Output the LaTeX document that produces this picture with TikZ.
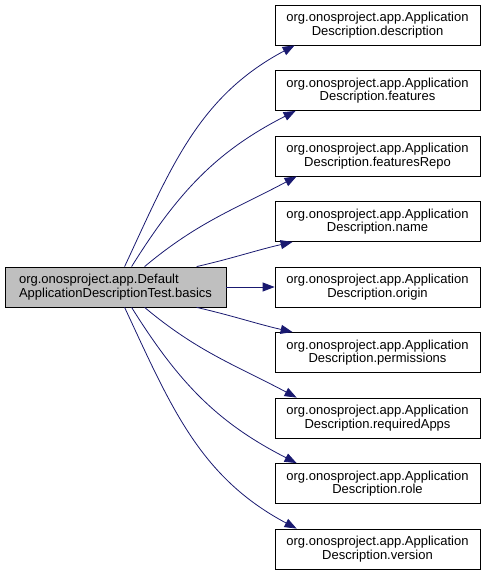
\documentclass[tikz,border=0pt]{standalone}
\usepackage{fontspec}
\setmainfont{Liberation Sans}
\usetikzlibrary{arrows.meta}

\definecolor{edgeblue}{HTML}{191970}
\definecolor{nodegray}{HTML}{BFBFBF}

\begin{document}
\begin{tikzpicture}[x=1pt, y=1pt]
  \tikzset{
    fn/.style={draw=black, line width=0.8pt, minimum width=205pt, minimum height=40pt,
      inner sep=0pt, align=center, font=\fontsize{13}{13.5}\selectfont},
    caller/.style={fn, fill=nodegray, minimum width=221pt, align=left},
    edge/.style={draw=edgeblue, line width=0.8pt, -{Triangle[length=12pt, width=9pt]}},
  }

  \useasboundingbox (0,0) rectangle (485,573);

  \node[caller] (basics) at (115.5,286) {org.onosproject.app.Default\\ApplicationDescriptionTest.basics};

  \foreach \n [count=\i] in {description,features,featuresRepo,name,origin,permissions,requiredApps,role,version}
    \node[fn] (\n) at (377.5, {548-65.5*(\i-1)}) {org.onosproject.app.Application\\Description.\n};

  % calls above the caller
  \foreach \n/\sx/\ex/\o/\a in {
    description/120/20/65/208,
    features/127/21/58/207,
    featuresRepo/140/22/40/208,
    name/192/18/13/193
  }{
    \draw[edge] ([xshift=\sx pt]basics.north west) to[out=\o, in=\a] ([xshift=\ex pt]\n.south west);
  }

  \draw[edge] (basics) -- (origin);

  % calls below the caller
  \foreach \n/\sx/\ex/\o/\a in {
    permissions/192/18/-13/167,
    requiredApps/140/22/-40/152,
    role/127/22/-58/153,
    version/120/22/-65/152
  }{
    \draw[edge] ([xshift=\sx pt]basics.south west) to[out=\o, in=\a] ([xshift=\ex pt]\n.north west);
  }
\end{tikzpicture}
\end{document}
